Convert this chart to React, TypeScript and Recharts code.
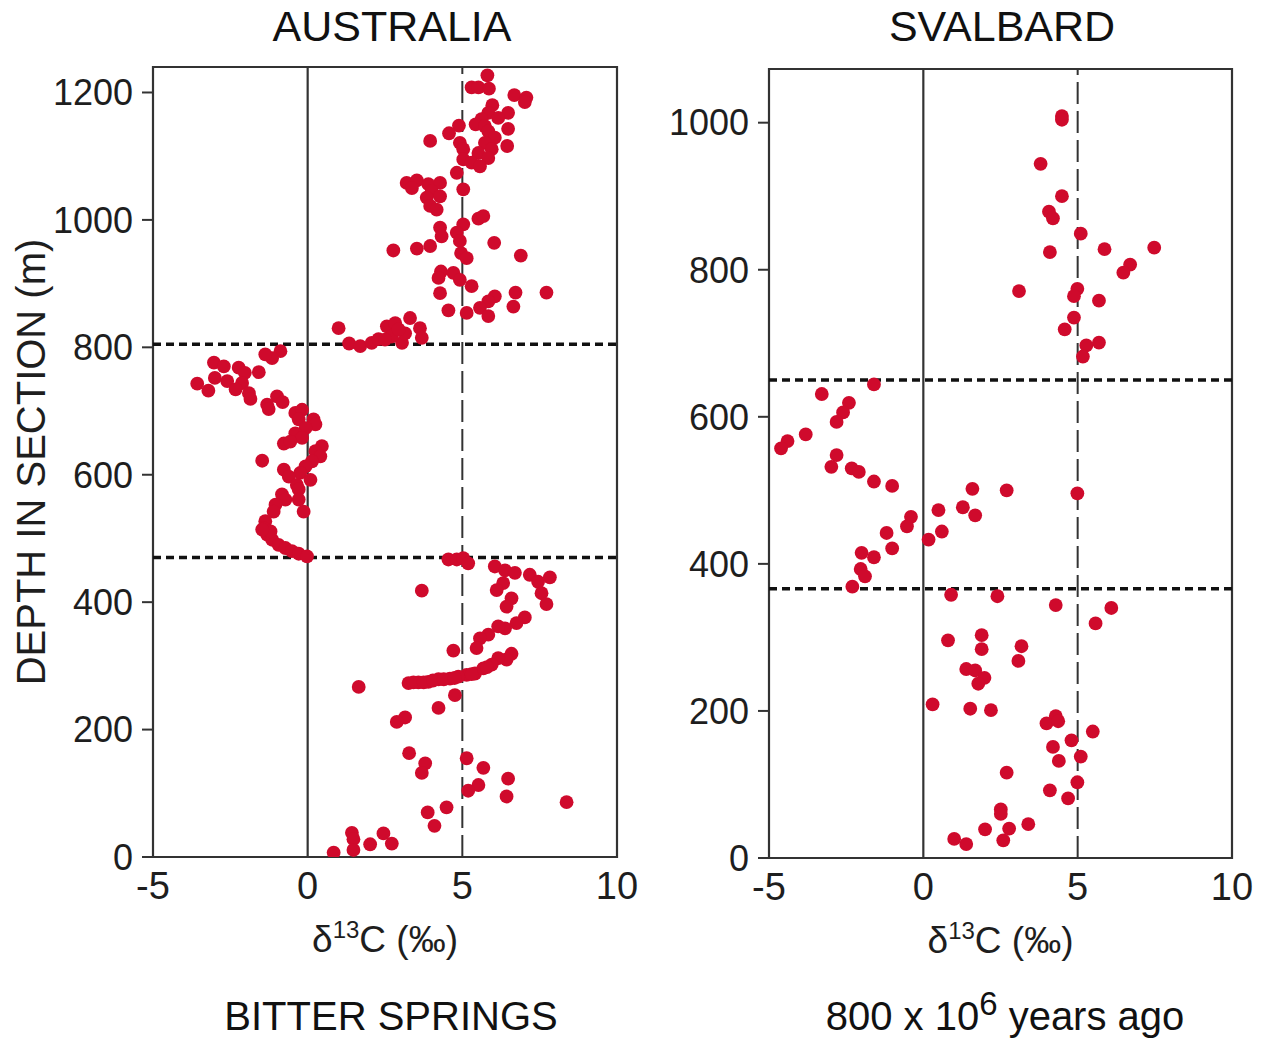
import {
  ReferenceArea,
  ReferenceLine,
  Scatter,
  ScatterChart,
  XAxis,
  YAxis,
} from "recharts";

const deltaTicks = [-5, 0, 5, 10];
const australiaDepthTicks = [0, 200, 400, 600, 800, 1000, 1200];
const svalbardDepthTicks = [0, 200, 400, 600, 800, 1000];
const australiaBoundaries = [805, 470];
const svalbardBoundaries = [650, 366];

// Bitter Springs, Australia: delta13C (per mil) and depth in section (m)
const australiaDelta = [
  5.81, 5.3, 5.52, 5.86, 6.68, 7.07, 7.02, 5.97, 5.84, 6.48, 6.16, 5.62, 5.43, 5.73, 6.48, 4.89,
  4.57, 5.84, 6.05, 3.96, 4.92, 5.73, 6.45, 5.03, 5.95, 5.52, 5.03, 5.84, 5.3, 5.57, 4.82, 3.2,
  3.53, 3.37, 3.9, 4.28, 4.01, 5.03, 4.28, 3.85, 3.96, 4.17, 5.52, 5.68, 4.28, 5.03, 4.33, 4.82,
  6.03, 4.92, 2.77, 3.53, 3.96, 4.96, 6.89, 5.14, 4.31, 4.71, 4.23, 4.92, 5.3, 4.28, 7.72, 6.72,
  6.05, 5.84, 5.57, 6.65, 4.55, 5.14, 5.84, 1.0, 1.34, 1.7, 2.07, 2.29, 2.56, 2.83, 3.31, 3.63,
  3.69, 3.05, 2.72, 3.15, 2.5, 2.94,
  -0.88, -1.15, -1.37, -3.03, -2.71, -2.23, -1.58, -2.03, -3.0, -3.57, -2.6, -2.12, -2.33, -3.21,
  -1.9, -1.85, -0.99, -0.81, -1.31, -1.26, -0.4, -0.18, -0.29, 0.19, 0.25, -0.07, -0.4, -0.18,
  -0.77, -0.56, 0.46, 0.25, 0.41, 0.14, -1.47, -0.07, -0.77, -0.24, -0.61, 0.09, -0.35, -0.29,
  -0.83, -0.72, -0.29, -1.04, -0.13, -1.1, -1.37, -1.42, -1.31, -1.15, -0.94, -0.72, -0.51, -0.29,
  -0.02, -1.2, -1.47,
  4.55, 4.82, 5.03, 5.19, 6.05, 6.38, 6.7, 7.18, 7.83, 7.45, 6.32, 6.11, 7.56, 3.69, 6.59, 7.72,
  6.43, 7.02, 6.75, 6.38, 6.16, 5.84, 5.57, 5.46, 4.71, 6.59, 6.43, 6.16, 5.95, 5.68, 5.41, 5.14,
  4.87, 4.6, 4.23, 3.9, 3.58, 3.26, 3.42, 3.75, 4.05, 4.4, 4.75, 5.3, 5.8, 1.65, 4.76, 4.23, 3.15,
  2.88, 3.28, 3.8, 3.69, 5.14, 5.68, 6.48, 5.52, 5.19, 6.43, 8.37, 4.49, 3.88, 4.1, 1.43, 2.45,
  1.48, 2.72, 2.02, 1.48, 0.84,
];
const australiaDepth = [
  1227, 1208, 1208, 1206, 1196, 1192, 1185, 1180, 1168, 1168, 1160, 1158, 1150, 1147, 1143, 1148,
  1136, 1139, 1129, 1124, 1121, 1121, 1116, 1111, 1111, 1105, 1095, 1097, 1090, 1084, 1074, 1058,
  1062, 1050, 1056, 1058, 1045, 1048, 1037, 1035, 1022, 1016, 1002, 1006, 988, 993, 974, 980,
  964, 967, 952, 955, 959, 948, 944, 940, 919, 917, 909, 906, 896, 885, 886, 886,
  880, 872, 862, 864, 858, 854, 849, 830, 806, 802, 807, 813, 833, 838, 846, 830,
  815, 807, 817, 822, 812, 828,
  794, 783, 789, 776, 770, 768, 761, 760, 752, 743, 747, 744, 734, 732,
  728, 719, 723, 714, 710, 703, 697, 702, 687, 687, 679, 673, 665, 658,
  649, 652, 645, 637, 629, 621, 622, 613, 608, 603, 597, 592, 584, 577,
  569, 561, 561, 553, 542, 542, 527, 516, 506, 498, 490, 485, 480, 476,
  472, 511, 514,
  467, 467, 469, 461, 456, 450, 446, 443, 439, 432, 430, 419, 414, 418, 406, 397,
  393, 376, 367, 359, 362, 349, 343, 328, 324, 319, 310, 312, 302, 296, 288, 286,
  283, 280, 279, 275, 274, 273, 274, 274, 277, 279, 281, 287, 298, 267, 254, 234, 219,
  212, 163, 147, 132, 155, 140, 123, 113, 104, 95, 86, 78, 70, 49, 38, 37,
  28, 21, 20, 11, 7,
];

// Svalbard: delta13C (per mil) and depth in section (m)
const svalbardDelta = [
  4.49, 4.49, 3.8, 4.49, 4.07, 4.2, 5.1, 5.87, 7.48, 4.1, 6.7, 6.48, 3.1, 4.99, 4.88, 5.69,
  4.88, 4.58, 5.69, 5.28, 5.17,
  -1.6, -3.29, -2.41, -2.6, -2.81, -3.81, -4.4, -4.61, -2.81, -2.98, -2.32, -2.09, -1.6, -1.01,
  1.59, 2.7, 4.99, 0.49, 1.28, 1.68, -0.4, -0.53, 0.6, -1.19, 0.17, -1.01, -2.0, -1.6, -2.03,
  -1.89, -2.3,
  0.9, 2.4, 4.29, 6.09, 5.58, 0.8, 1.89, 1.89, 3.18, 3.08, 1.39, 1.68, 1.98, 1.78, 0.3, 1.52,
  2.19, 4.29, 3.99, 4.37, 5.49, 4.8, 4.2, 5.1, 4.39, 2.7, 4.99, 4.1, 4.69, 2.51, 2.51, 3.4, 2.0,
  2.78, 1.0, 2.59, 1.39,
];
const svalbardDepth = [
  1009, 1004, 944, 900, 879, 870, 849, 828, 830, 824, 807, 796, 771, 774, 764, 758,
  735, 719, 701, 697, 682,
  644, 631, 619, 606, 593, 576, 567, 557, 548, 532, 530, 525, 512, 506,
  502, 500, 496, 473, 477, 466, 464, 451, 444, 442, 433, 421, 415, 409, 393,
  383, 369,
  358, 356, 344, 340, 319, 296, 303, 284, 288, 268, 257, 255, 245, 237, 209, 203,
  201, 193, 183, 186, 172, 160, 151, 138, 132, 116, 103, 92, 81, 66, 60, 46, 39,
  40, 26, 24, 19,
];

const australiaPoints = australiaDelta.map((d, i) => ({ delta: d, depth: australiaDepth[i] }));
const svalbardPoints = svalbardDelta.map((d, i) => ({ delta: d, depth: svalbardDepth[i] }));

const FONT = '"Liberation Sans", Arial, Helvetica, sans-serif';
const DOT = "#cf0a2c";
const INK = "#1e1e1e";
const FRAME = "#333";
const TICK_FONT = 36;
const CHART_H = 1038;

function Dot(props: any) {
  const { cx, cy } = props;
  if (cx == null || cy == null) return null;
  return <circle cx={cx} cy={cy} r={6.9} fill={DOT} />;
}

function DeltaLabel({ viewBox }: any) {
  if (!viewBox) return null;
  const x = viewBox.x + viewBox.width / 2;
  const y = viewBox.y + 95;
  return (
    <text x={x} y={y} textAnchor="middle" fontFamily={FONT} fontSize={37} fill={INK}>
      δ
      <tspan fontSize={24} dy={-14}>
        13
      </tspan>
      <tspan dy={14}>C (‰)</tspan>
    </text>
  );
}

function DepthLabel({ viewBox }: any) {
  if (!viewBox) return null;
  const x = 45;
  const y = viewBox.y + viewBox.height / 2;
  return (
    <text
      x={x}
      y={y}
      textAnchor="middle"
      fontFamily={FONT}
      fontSize={40}
      fill={INK}
      transform={`rotate(-90, ${x}, ${y})`}
    >
      DEPTH IN SECTION (m)
    </text>
  );
}

interface PanelProps {
  points: { delta: number; depth: number }[];
  depthMax: number;
  depthTicks: number[];
  boundaries: number[];
  width: number;
  yAxisWidth: number;
  top: number;
  bottom: number;
  right: number;
  depthLabel?: boolean;
}

function Panel({
  points,
  depthMax,
  depthTicks,
  boundaries,
  width,
  yAxisWidth,
  top,
  bottom,
  right,
  depthLabel,
}: PanelProps) {
  const tick = { fill: INK, fontSize: TICK_FONT, fontFamily: FONT };
  return (
    <ScatterChart width={width} height={CHART_H} margin={{ top, right, bottom: 0, left: 0 }}>
      <XAxis
        type="number"
        dataKey="delta"
        domain={[-5, 10]}
        ticks={deltaTicks}
        interval={0}
        allowDataOverflow
        axisLine={false}
        tickLine={false}
        tickSize={8}
        tickMargin={7}
        height={CHART_H - bottom}
        tick={{ ...tick, fontSize: 38 }}
        label={<DeltaLabel />}
      />
      <YAxis
        type="number"
        dataKey="depth"
        domain={[0, depthMax]}
        ticks={depthTicks}
        interval={0}
        allowDataOverflow
        axisLine={false}
        tickLine={{ stroke: FRAME, strokeWidth: 2 }}
        tickSize={11}
        tickMargin={9}
        width={yAxisWidth}
        tick={tick}
        label={depthLabel ? <DepthLabel /> : undefined}
      />
      <ReferenceArea
        x1={-5}
        x2={10}
        y1={0}
        y2={depthMax}
        fill="none"
        stroke={FRAME}
        strokeWidth={2.2}
        ifOverflow="visible"
      />
      <ReferenceLine x={0} stroke={FRAME} strokeWidth={2.2} />
      <ReferenceLine x={5} stroke={FRAME} strokeWidth={2} strokeDasharray="22 7" />
      {boundaries.map((b) => (
        <ReferenceLine key={b} y={b} stroke="#111" strokeWidth={3.5} strokeDasharray="8 5" />
      ))}
      <Scatter
        data={points}
        isAnimationActive={false}
        shape={(p: any) => <Dot {...p} />}
      />
    </ScatterChart>
  );
}

export default function App() {
  return (
    <div
      style={{
        position: "absolute",
        left: 0,
        top: 0,
        width: 1266,
        height: CHART_H,
        background: "#fff",
      }}
    >
      <svg
        width={1266}
        height={CHART_H}
        style={{ position: "absolute", left: 0, top: 0 }}
        fontFamily={FONT}
        fill="#111"
      >
        <text x={392} y={41} textAnchor="middle" fontSize={43}>
          AUSTRALIA
        </text>
        <text x={1002} y={41} textAnchor="middle" fontSize={43}>
          SVALBARD
        </text>
        <text x={391} y={1030} textAnchor="middle" fontSize={40}>
          BITTER SPRINGS
        </text>
        <text x={1005} y={1030} textAnchor="middle" fontSize={40}>
          800 x 10
          <tspan fontSize={33} dy={-15}>
            6
          </tspan>
          <tspan dy={15}> years ago</tspan>
        </text>
      </svg>
      <div style={{ position: "absolute", left: 0, top: 0 }}>
        <Panel
          points={australiaPoints}
          depthMax={1240}
          depthTicks={australiaDepthTicks}
          boundaries={australiaBoundaries}
          width={640}
          yAxisWidth={153}
          top={67}
          bottom={857}
          right={23}
          depthLabel
        />
      </div>
      <div style={{ position: "absolute", left: 640, top: 0 }}>
        <Panel
          points={svalbardPoints}
          depthMax={1073}
          depthTicks={svalbardDepthTicks}
          boundaries={svalbardBoundaries}
          width={626}
          yAxisWidth={129}
          top={69}
          bottom={858}
          right={34}
        />
      </div>
    </div>
  );
}
